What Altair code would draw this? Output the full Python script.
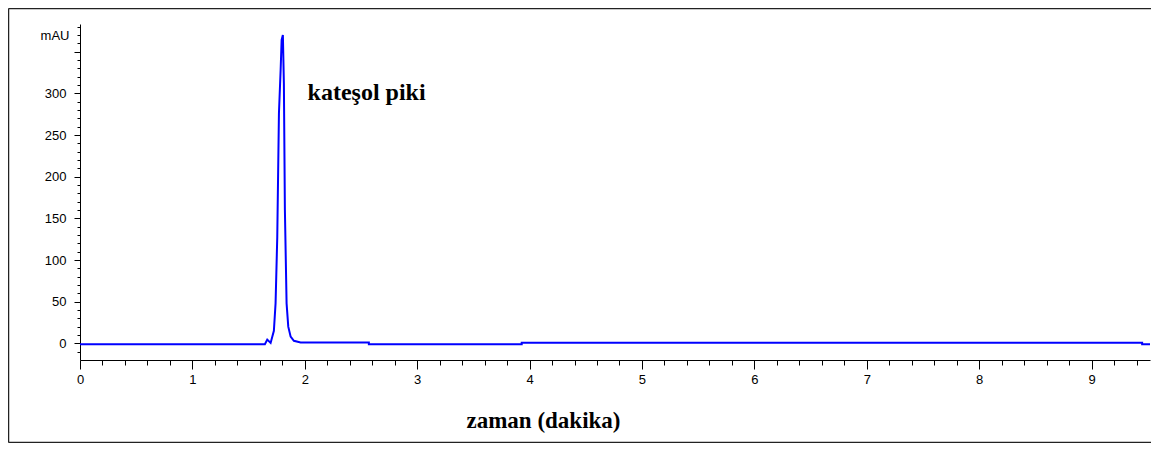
import altair as alt
import pandas as pd

# chromatogram trace (time in min, absorbance in mAU)
time_min = [0.0, 1.645, 1.666, 1.696, 1.725, 1.740, 1.755, 1.770, 1.785, 1.794, 1.805,
            1.814, 1.823, 1.838, 1.853, 1.874, 1.903, 1.963, 2.57, 2.57, 3.93, 3.93,
            9.45, 9.45, 9.52]
mau = [-1.0, -1.0, 4.5, 0.5, 15, 48, 127, 276, 328, 364, 370,
       312, 160, 48, 20, 8, 3, 1.0, 1.0, -1.0, -1.0, 0.8,
       0.8, -1.0, -1.0]

x_ticks = [round(0.2 * k, 1) for k in range(0, 48)]
y_ticks = list(range(-10, 381, 10))

peak_label = ["kateşol piki"]
peak_label_time = [2.55]
peak_label_mau = [292]

x_title = "zaman (dakika)"
y_unit = "mAU"

W, H = 1070, 336

df = pd.DataFrame({"t": time_min, "v": mau, "i": list(range(len(time_min)))})
lab = pd.DataFrame({"t": peak_label_time, "v": peak_label_mau, "txt": peak_label})
one = pd.DataFrame({"k": [0]})

is_int = "abs(datum.value - round(datum.value)) < 0.001"

x_axis = alt.Axis(
    values=x_ticks,
    tickCount=200,
    title=x_title,
    labelExpr=f"{is_int} ? '' + round(datum.value) : ''",
    tickSize={"condition": {"test": is_int, "value": 9}, "value": 5},
    grid=False, domainColor="black", tickColor="black", labelColor="black",
    labelFont="Liberation Sans", labelFontSize=13, labelPadding=4,
    labelOverlap=False, labelFlush=False,
    titleFont="Liberation Serif", titleFontSize=23, titleFontWeight="bold",
    titleColor="black", titleX=463, titleY=67, titleAlign="center",
    titleBaseline="alphabetic",
)

y_axis = alt.Axis(
    values=y_ticks,
    tickCount=200,
    title=None,
    format="d",
    labelExpr=f"datum.value == 370 ? '{y_unit}' : ((datum.value >= 0 && datum.value <= 300 && datum.value % 50 == 0) ? datum.label : '')",
    tickSize={"condition": {"test": "datum.value % 50 == 0", "value": 6}, "value": 3},
    grid=False, domainColor="black", tickColor="black", labelColor="black",
    labelFont="Liberation Sans", labelFontSize=13, labelPadding=8,
    labelOverlap=False, labelFlush=False,
)

line = alt.Chart(df).mark_line(color="#0000FF", strokeWidth=2).encode(
    x=alt.X("t:Q", scale=alt.Scale(domain=[0, 9.52], nice=False, zero=False), axis=x_axis),
    y=alt.Y("v:Q", scale=alt.Scale(domain=[-20, 383.2], nice=False, zero=False), axis=y_axis),
    order=alt.Order("i:Q"),
)

text = alt.Chart(lab).mark_text(
    font="Liberation Serif", fontSize=24, fontWeight="bold", color="black",
    align="center", baseline="alphabetic",
).encode(x="t:Q", y="v:Q", text="txt:N")

frame_style = dict(color="#222222", strokeWidth=1.5)
frame_top = alt.Chart(one).mark_rule(**frame_style).encode(
    x=alt.value(-71.5), x2=alt.value(W + 1), y=alt.value(-15.5))
frame_left = alt.Chart(one).mark_rule(**frame_style).encode(
    x=alt.value(-71.5), y=alt.value(-15.5), y2=alt.value(418.5))
frame_bottom = alt.Chart(one).mark_rule(**frame_style).encode(
    x=alt.value(-71.5), x2=alt.value(W + 1), y=alt.value(418.5))

chart = alt.layer(line, text, frame_top, frame_left, frame_bottom).properties(
    width=W, height=H,
    autosize=alt.AutoSizeParams(type="none"),
    padding={"left": 72, "top": 16, "right": 1, "bottom": 83},
).configure_view(stroke=None)

chart.save("out.html", embed_options={"renderer": "svg", "actions": False})
